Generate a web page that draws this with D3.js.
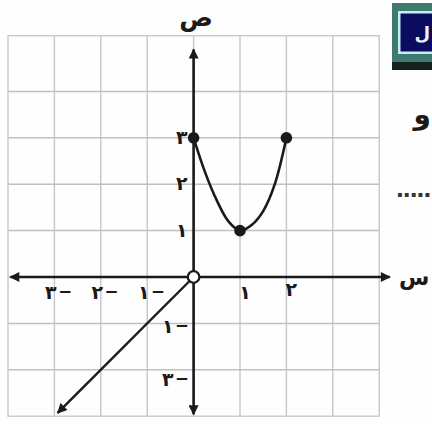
<!DOCTYPE html>
<html><head><meta charset="utf-8">
<script src="https://cdn.jsdelivr.net/npm/d3@7"></script>
<style>
html,body{margin:0;padding:0;background:#fefefe;}
svg{display:block;}
text{font-family:"DejaVu Sans",sans-serif;}
</style></head>
<body>
<script>
// ---- data ----
const gridX = [-3, -2, -1, 0, 1, 2, 3];
const gridY = [-2, -1, 0, 1, 2, 3, 4];
const xTickValues = [-3, -2, -1, 1, 2];
const xTickLabels = ["٣–", "٢–", "١–", "١", "٢"];
const yTickValues = [3, 2, 1, -1, -2];
const yTickLabels = ["٣", "٢", "١", "١–", "٣–"];
const curveX = [0, 0.25, 0.5, 0.75, 1, 1.25, 1.5, 1.75, 2];
const curveY = [3, 2.25, 1.65, 1.2, 1, 1.12, 1.42, 2.0, 3];
const dotX = [0, 1, 2];
const dotY = [3, 1, 3];
const rayX = [0, -2.93];
const rayY = [0, -2.93];
const openX = [0];
const openY = [0];
const xAxisLabel = "س";
const yAxisLabel = "ص";

const W = 432, H = 424;
const svg = d3.select("body").append("svg").attr("width", W).attr("height", H);
svg.append("rect").attr("width", W).attr("height", H).attr("fill", "#fefefe");

const x = d3.scaleLinear().domain([-4, 4]).range([8, 379.2]);
const y = d3.scaleLinear().domain([-3, 5.2]).range([416.2, 35.7]);

// grid
const g = svg.append("g");
g.selectAll(".vx").data(gridX).join("line")
  .attr("x1", d => x(d)).attr("x2", d => x(d))
  .attr("y1", y(5.2)).attr("y2", y(-3))
  .attr("stroke", "#c6c6c6").attr("stroke-width", 1.4);
g.selectAll(".hy").data(gridY).join("line")
  .attr("y1", d => y(d)).attr("y2", d => y(d))
  .attr("x1", x(-4)).attr("x2", x(4))
  .attr("stroke", "#c0c0c0").attr("stroke-width", 1.5);
g.append("rect").attr("x", x(-4)).attr("y", y(5.2))
  .attr("width", x(4) - x(-4)).attr("height", y(-3) - y(5.2))
  .attr("fill", "none").attr("stroke", "#c8c8c8").attr("stroke-width", 1.4);

// arrow marker
const defs = svg.append("defs");
defs.append("marker").attr("id", "arr").attr("viewBox", "0 0 10 10")
  .attr("refX", 9).attr("refY", 5).attr("markerWidth", 11).attr("markerHeight", 10)
  .attr("markerUnits", "userSpaceOnUse").attr("orient", "auto-start-reverse")
  .append("path").attr("d", "M0,0 L10,5 L0,10 Z").attr("fill", "#1a1a1a");

const ink = "#1a1a1a";
// axes
svg.append("line").attr("x1", x(-3.95)).attr("x2", x(4.23)).attr("y1", y(0)).attr("y2", y(0))
  .attr("stroke", ink).attr("stroke-width", 2.6)
  .attr("marker-start", "url(#arr)").attr("marker-end", "url(#arr)");
svg.append("line").attr("x1", x(0)).attr("x2", x(0)).attr("y1", y(-2.96)).attr("y2", y(4.9))
  .attr("stroke", ink).attr("stroke-width", 2.6)
  .attr("marker-start", "url(#arr)").attr("marker-end", "url(#arr)");

// ray y = x for x<=0
svg.append("path").datum(rayX.map((d, i) => [d, rayY[i]]))
  .attr("d", d3.line().x(d => x(d[0])).y(d => y(d[1])))
  .attr("fill", "none").attr("stroke", ink).attr("stroke-width", 2.4)
  .attr("marker-end", "url(#arr)");

// parabola
svg.append("path").datum(curveX.map((d, i) => [d, curveY[i]]))
  .attr("d", d3.line().x(d => x(d[0])).y(d => y(d[1])).curve(d3.curveCatmullRom))
  .attr("fill", "none").attr("stroke", ink).attr("stroke-width", 2.6);

// dots
svg.selectAll(".dot").data(dotX.map((d, i) => [d, dotY[i]])).join("circle")
  .attr("cx", d => x(d[0])).attr("cy", d => y(d[1])).attr("r", 5.8).attr("fill", ink);
svg.selectAll(".open").data(openX.map((d, i) => [d, openY[i]])).join("circle")
  .attr("cx", d => x(d[0])).attr("cy", d => y(d[1])).attr("r", 5.8)
  .attr("fill", "#fff").attr("stroke", ink).attr("stroke-width", 2.2);

// tick label writer: digit, then a long thin dash for negatives
function writeLabel(sel, s) {
  const digit = s.replace("–", "");
  sel.append("tspan").attr("font-weight", "bold").text(digit);
  if (s.includes("–")) {
    sel.append("tspan").attr("dx", 2).attr("font-size", 26).attr("font-weight", "normal").text("–");
  }
}
const lbl = svg.append("g").attr("fill", ink).attr("font-size", 19)
  .style("direction", "ltr").style("unicode-bidi", "bidi-override");
lbl.selectAll(".xt").data(xTickValues).join("text")
  .attr("x", d => x(d) + (d < 0 ? 4 : 5)).attr("y", d => y(0) + (d === 2 ? 19 : 22))
  .attr("text-anchor", "middle")
  .style("direction", "ltr").style("unicode-bidi", "bidi-override")
  .each(function (d, i) { writeLabel(d3.select(this), xTickLabels[i]); });
lbl.selectAll(".yt").data(yTickValues).join("text")
  .attr("x", d => d < 0 ? x(0) - 5 : x(0) - 6)
  .attr("y", d => y(d) + (d < 0 ? 10 : 6) + (d === -2 ? 6 : 0))
  .attr("text-anchor", "end")
  .style("direction", "ltr").style("unicode-bidi", "bidi-override")
  .each(function (d, i) { writeLabel(d3.select(this), yTickLabels[i]); });

// axis titles
svg.append("text").attr("x", 196).attr("y", 26).attr("text-anchor", "middle")
  .attr("font-size", 25).attr("font-weight", "bold").attr("fill", ink).text(yAxisLabel);
svg.append("text").attr("x", 399).attr("y", 285).attr("text-anchor", "start")
  .attr("font-size", 22).attr("font-weight", "bold").attr("fill", ink).text(xAxisLabel);

// cropped textbook elements at the right
svg.append("rect").attr("x", 392).attr("y", 3).attr("width", 40).attr("height", 62).attr("fill", "#3e7a6f");
svg.append("rect").attr("x", 392).attr("y", 62).attr("width", 40).attr("height", 8).attr("fill", "#14211e");
svg.append("rect").attr("x", 398).attr("y", 11).attr("width", 34).attr("height", 43).attr("fill", "#c5eef0");
svg.append("rect").attr("x", 400.5).attr("y", 13.5).attr("width", 31.5).attr("height", 38).attr("fill", "#0c0c5e");
svg.append("text").attr("x", 430).attr("y", 40).attr("text-anchor", "end")
  .attr("font-size", 18).attr("font-weight", "bold").attr("fill", "#e8f4ff").text("ل");
svg.append("text").attr("x", 431).attr("y", 124).attr("text-anchor", "end")
  .attr("font-size", 28).attr("font-weight", "bold").attr("fill", ink).text("و");
svg.append("text").attr("x", 430).attr("y", 197).attr("text-anchor", "end")
  .attr("font-size", 22).attr("font-weight", "bold").attr("fill", "#333")
  .attr("letter-spacing", -1.5).text(".....");
</script>
</body></html>
